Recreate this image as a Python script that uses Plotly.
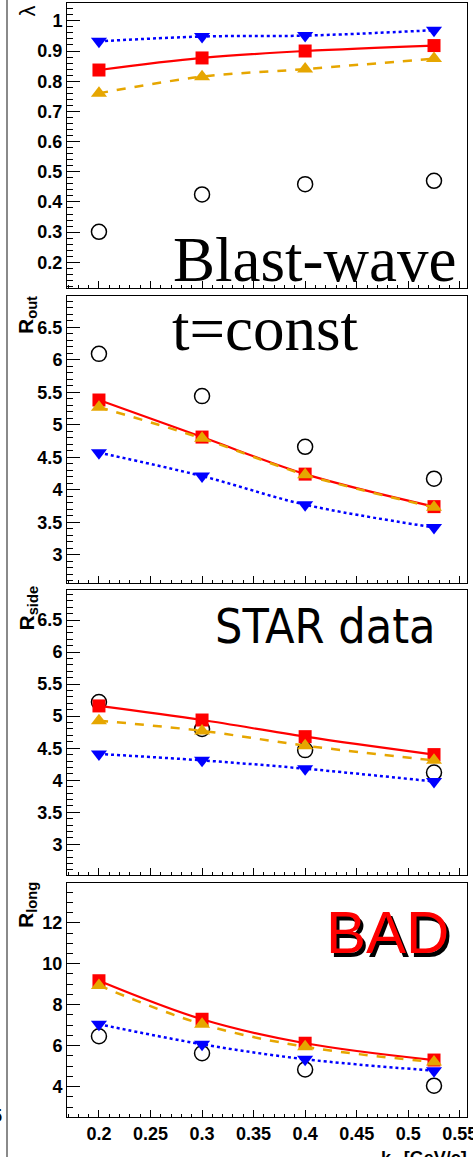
import plotly.graph_objects as go

W, H = 473, 1157

# ---------------- data ----------------
kt = [0.2, 0.3, 0.4, 0.525]

lambda_red = [0.837, 0.877, 0.900, 0.918]
lambda_orange = [0.760, 0.815, 0.840, 0.875]
lambda_blue = [0.932, 0.948, 0.951, 0.969]
lambda_data = [0.301, 0.425, 0.459, 0.470]

rout_red = [5.38, 4.81, 4.24, 3.74]
rout_orange = [5.27, 4.79, 4.23, 3.73]
rout_blue = [4.57, 4.21, 3.77, 3.42]
rout_data = [6.09, 5.44, 4.66, 4.17]

rside_red = [5.16, 4.94, 4.68, 4.40]
rside_orange = [4.93, 4.77, 4.54, 4.31]
rside_blue = [4.41, 4.31, 4.18, 3.98]
rside_data = [5.22, 4.80, 4.47, 4.12]

rlong_red = [9.17, 7.29, 6.12, 5.30]
rlong_orange = [8.94, 7.05, 5.95, 5.20]
rlong_blue = [7.05, 6.07, 5.34, 4.78]
rlong_data = [6.46, 5.63, 4.84, 4.05]

panel_titles = ["λ", "<b>R<sub>out</sub></b>", "<b>R<sub>side</sub></b>", "<b>R<sub>long</sub></b>"]
x_title = "<b>k<sub>T</sub> [GeV/c]</b>"

# ---------------- layout helpers ----------------
def px_x(p):
    return p / W

def px_y(p):
    return 1 - p / H

RED = "#ff0000"
ORANGE = "#e6a600"
BLUE = "#0000ff"

panels = [
    dict(top=3, bottom=288, yr=[0.115, 1.059], dt=0.1, mdt=0.02,
         d=lambda_data, r=lambda_red, o=lambda_orange, b=lambda_blue, tpos=4, tanch="top"),
    dict(top=296, bottom=583, yr=[2.565, 6.98], dt=0.5, mdt=0.1,
         d=rout_data, r=rout_red, o=rout_orange, b=rout_blue, tpos=294, tanch="top"),
    dict(top=590, bottom=875, yr=[2.52, 6.97], dt=0.5, mdt=0.1,
         d=rside_data, r=rside_red, o=rside_orange, b=rside_blue, tpos=584, tanch="top"),
    dict(top=883, bottom=1117, yr=[2.52, 13.94], dt=2, mdt=0.5,
         d=rlong_data, r=rlong_red, o=rlong_orange, b=rlong_blue, tpos=880, tanch="top"),
]

fig = go.Figure()
tickfont = dict(family="Liberation Sans, Arial, sans-serif", size=18, color="black", weight="bold")

for i, p in enumerate(panels):
    n = "" if i == 0 else str(i + 1)
    xa, ya = "x" + n, "y" + n
    series = [
        (p["d"], dict(symbol="circle-open", size=15, color="black", line=dict(width=1.5, color="black")), None),
        (p["r"], dict(symbol="square", size=13, color=RED), dict(color=RED, width=2.2, dash="solid", shape="spline")),
        (p["o"], dict(symbol="triangle-up", size=14, color=ORANGE), dict(color=ORANGE, width=2.5, dash="dash", shape="spline")),
        (p["b"], dict(symbol="triangle-down", size=14, color=BLUE), dict(color=BLUE, width=2.5, dash="dot", shape="spline")),
    ]
    for vals, mk, ln in series:
        fig.add_trace(go.Scatter(
            x=kt, y=vals, xaxis=xa, yaxis=ya,
            mode="markers" if ln is None else "lines+markers",
            marker=mk, line=ln, showlegend=False, hoverinfo="skip"))

    fig.layout["xaxis" + n] = dict(
        domain=[px_x(67), px_x(467)], range=[0.169, 0.557], anchor=ya,
        showline=True, mirror=True, linecolor="black", linewidth=1,
        ticks="inside", ticklen=7, tickcolor="black", tickwidth=1,
        dtick=0.05, tick0=0, automargin=False, ticklabeloverflow="allow",
        tickprefix="<b>", ticksuffix="</b>",
        minor=dict(ticks="inside", ticklen=3.5, dtick=0.01, tick0=0, tickcolor="black", showgrid=False),
        showticklabels=(i == 3), tickfont=tickfont,
        showgrid=False, zeroline=False, fixedrange=True)
    fig.layout["yaxis" + n] = dict(
        domain=[px_y(p["bottom"]), px_y(p["top"])], range=p["yr"], anchor=xa,
        showline=True, mirror=True, linecolor="black", linewidth=1,
        ticks="inside", ticklen=13, tickcolor="black", tickwidth=1,
        dtick=p["dt"], tick0=0, automargin=False, ticklabeloverflow="allow",
        tickprefix="<b>", ticksuffix="</b>",
        minor=dict(ticks="inside", ticklen=6, dtick=p["mdt"], tick0=0, tickcolor="black", showgrid=False),
        tickfont=tickfont, showgrid=False, zeroline=False, fixedrange=True)

    fig.add_annotation(
        text=panel_titles[i], xref="paper", yref="paper",
        x=px_x(27), y=px_y(p["tpos"]), xanchor="center", yanchor=p["tanch"],
        textangle=-90, showarrow=False,
        font=dict(family="Liberation Sans, Arial, sans-serif", size=21 if i else 22, color="black"))

# x axis title
fig.add_annotation(text=x_title, xref="paper", yref="paper", x=px_x(379), y=px_y(1146),
                   xanchor="left", yanchor="top", showarrow=False,
                   font=dict(family="Liberation Sans, Arial, sans-serif", size=18, color="black"))

# clipped label at far left
fig.add_annotation(text="<b>5</b>", xref="paper", yref="paper", x=px_x(4), y=px_y(1116),
                   xanchor="right", yanchor="middle", showarrow=False,
                   font=dict(family="Liberation Sans, Arial, sans-serif", size=18, color="black"))

# big labels
fig.add_annotation(text="Blast-wave", xref="paper", yref="paper", x=px_x(458), y=px_y(260),
                   xanchor="right", yanchor="middle", showarrow=False,
                   font=dict(family="Liberation Serif, Times New Roman, serif", size=63, color="black"))
fig.add_annotation(text="t=const", xref="paper", yref="paper", x=px_x(170), y=px_y(329),
                   xanchor="left", yanchor="middle", showarrow=False,
                   font=dict(family="Liberation Serif, Times New Roman, serif", size=63, color="black"))
fig.add_annotation(text="STAR data", xref="paper", yref="paper", x=px_x(438), y=px_y(626),
                   xanchor="right", yanchor="middle", showarrow=False,
                   font=dict(family="DejaVu Sans Condensed, Open Sans, sans-serif", size=48, color="black"))
bad_font = "Liberation Sans Narrow, Arial Narrow, Liberation Sans, sans-serif"
fig.add_annotation(text="BAD", xref="paper", yref="paper", x=px_x(454), y=px_y(936),
                   xanchor="right", yanchor="middle", showarrow=False,
                   font=dict(family=bad_font, size=60, color="black"))
fig.add_annotation(text="BAD", xref="paper", yref="paper", x=px_x(451), y=px_y(933),
                   xanchor="right", yanchor="middle", showarrow=False,
                   font=dict(family=bad_font, size=60, color=RED))

# gray vertical rule at the left
fig.add_shape(type="line", xref="paper", yref="paper", x0=px_x(7), x1=px_x(7), y0=0, y1=1,
              line=dict(color="#8a8a8a", width=2))

fig.update_layout(width=W, height=H, margin=dict(l=0, r=0, t=0, b=0),
                  paper_bgcolor="white", plot_bgcolor="white", showlegend=False)

fig.write_html("out.html")
